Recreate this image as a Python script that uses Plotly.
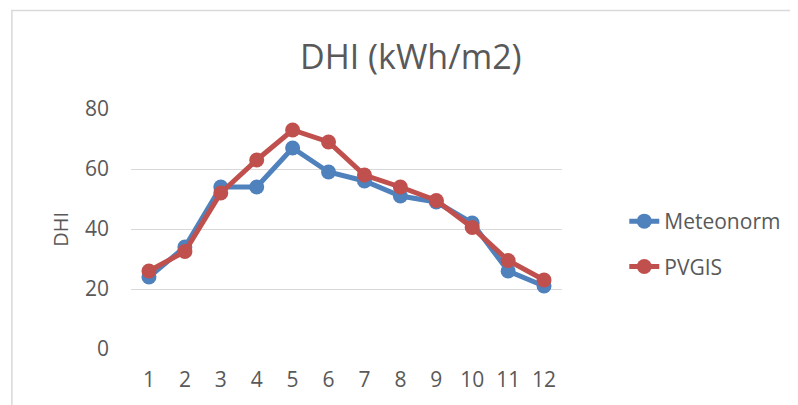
import plotly.graph_objects as go

months = [1, 2, 3, 4, 5, 6, 7, 8, 9, 10, 11, 12]
meteonorm = [24, 34, 54, 54, 67, 59, 56, 51, 49, 42, 26, 21]
pvgis = [26, 32.5, 52, 63, 73, 69, 58, 54, 49.5, 40.5, 29.5, 23]
y_ticks = [0, 20, 40, 60, 80]

FONT = "Open Sans"
GREY = "#595959"
OFF = 8  # default page body margin
W, H = 798 - OFF, 405 - OFF
# plot area in screen pixels: x 131..567, y 109..349
L, R, T, B = 131 - OFF, 798 - 567, 109 - OFF, 405 - 349
PW, PH = W - L - R, H - T - B

def px_x(p):
    return (p - OFF - L) / PW

def px_y(p):
    return (H - B - (p - OFF)) / PH

fig = go.Figure()
fig.add_trace(go.Scatter(
    x=months, y=meteonorm, name="Meteonorm", mode="lines+markers",
    line=dict(color="#4F81BD", width=5),
    marker=dict(color="#4F81BD", size=15),
    legendgroup="a",
))
fig.add_trace(go.Scatter(
    x=months, y=pvgis, name="PVGIS", mode="lines+markers",
    line=dict(color="#C0504D", width=5),
    marker=dict(color="#C0504D", size=15),
    legendgroup="b",
))

fig.update_layout(
    width=W, height=H,
    margin=dict(l=L, r=R, t=T, b=B),
    paper_bgcolor="white", plot_bgcolor="white",
    font=dict(family=FONT, color=GREY, size=21),
    showlegend=True,
    legend=dict(
        x=px_x(630), y=px_y(201), xanchor="left", yanchor="top",
        font=dict(size=21, color=GREY, family=FONT),
        tracegroupgap=15, bgcolor="rgba(0,0,0,0)", itemwidth=30,
    ),
    xaxis=dict(
        range=[0.5, 12.5], tickmode="array", tickvals=months,
        ticktext=[str(m) for m in months],
        showgrid=False, zeroline=False, showline=False, ticks="",
        tickfont=dict(size=21, color=GREY, family=FONT),
        ticklabelstandoff=16,
    ),
    yaxis=dict(
        range=[0, 80], tickmode="array", tickvals=y_ticks,
        showgrid=True, gridcolor="#D9D9D9", gridwidth=1.3,
        zeroline=False, showline=False, ticks="",
        tickfont=dict(size=21, color=GREY, family=FONT),
        ticklabelstandoff=21,
    ),
    shapes=[dict(
        type="rect", xref="paper", yref="paper",
        x0=px_x(10.5), x1=px_x(830), y0=px_y(430), y1=px_y(10.5),
        line=dict(color="#D9D9D9", width=1.5), fillcolor="rgba(0,0,0,0)",
        layer="below",
    )],
    annotations=[
        dict(text="DHI (kWh/m2)", xref="paper", yref="paper",
             x=px_x(414), y=px_y(56), xanchor="center", yanchor="middle",
             showarrow=False, font=dict(size=34, color=GREY, family=FONT)),
        dict(text="DHI", xref="paper", yref="paper",
             x=px_x(59), y=px_y(229), xanchor="center", yanchor="middle",
             textangle=-90, showarrow=False,
             font=dict(size=20, color=GREY, family=FONT)),
    ],
)

fig.write_html("out.html")
